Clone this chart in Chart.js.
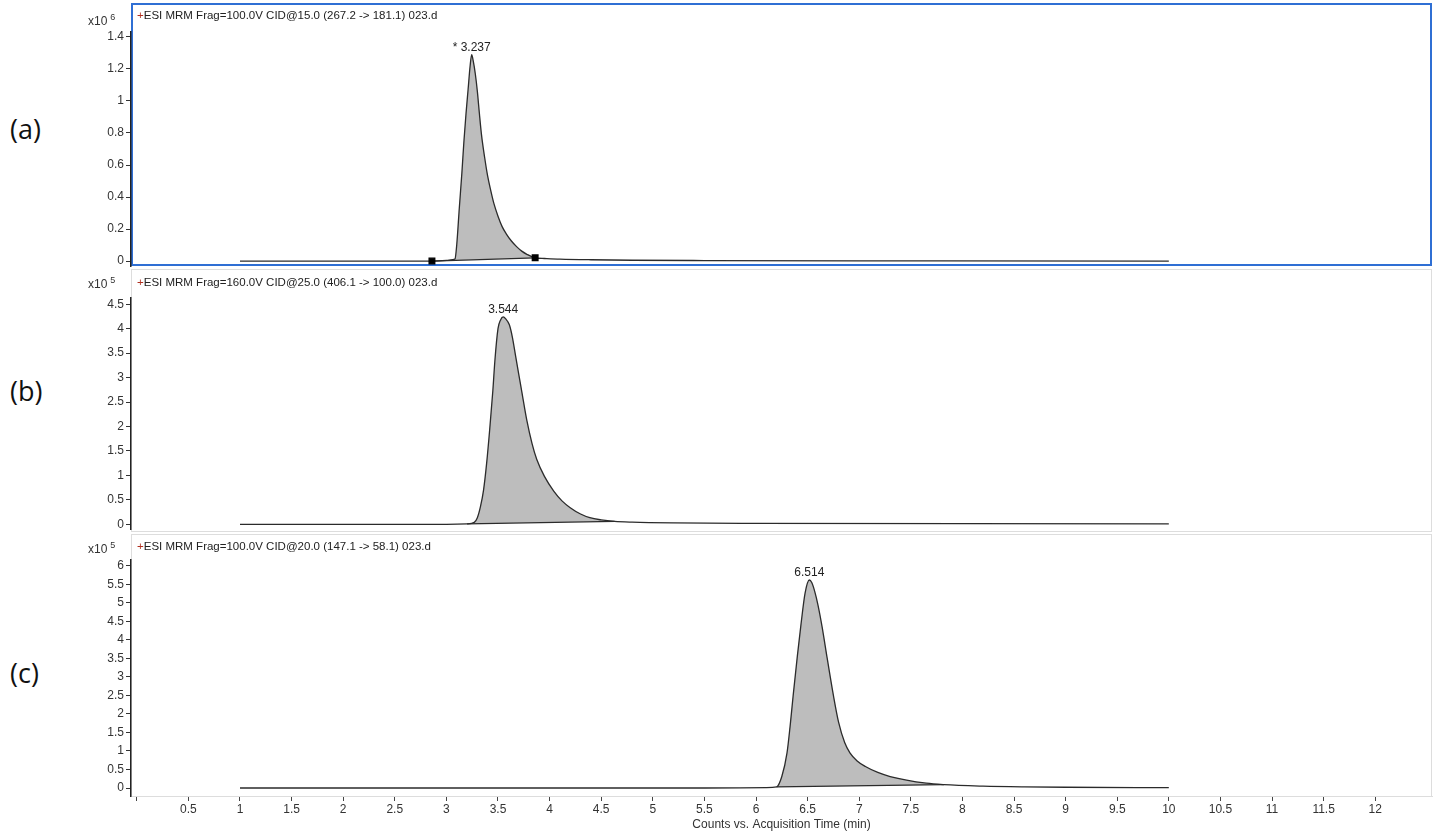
<!DOCTYPE html>
<html>
<head>
<meta charset="utf-8">
<script src="https://cdn.jsdelivr.net/npm/chart.js@4.4.1/dist/chart.umd.min.js"></script>
<style>
  body { margin: 0; background: #fff; width: 1439px; height: 831px; overflow: hidden; position: relative; font-family: Arial, "Liberation Sans", sans-serif; }
  .box { position: absolute; left: 131px; width: 1301px; box-sizing: border-box; }
  #boxA { top: 3px; height: 263px; border: 2px solid #2f6fd4; }
  #boxB { top: 269px; height: 263px; border: 1px solid #dddddd; }
  #boxC { top: 534px; height: 263px; border: 1px solid #dddddd; }
  .cv { position: absolute; left: 50px; z-index: 2; }
  .title { position: absolute; left: 137px; font-size: 11.5px; color: #222; white-space: nowrap; z-index: 3; }
  .title b { color: #b03020; font-weight: normal; }
  .mult { position: absolute; left: 88px; font-size: 12px; color: #333; z-index: 3; }
  .mult sup { font-size: 9px; margin-left: 3px; }
  .panel { position: absolute; left: 10px; font-family: "Open Sans", sans-serif; font-size: 27px; color: #111; }
</style>
</head>
<body>
<div class="box" id="boxA"></div>
<div class="box" id="boxB"></div>
<div class="box" id="boxC"></div>

<div class="panel" style="top:110px">(a)</div>
<div class="panel" style="top:372px">(b)</div>
<div class="panel" style="top:654px">(c)</div>

<div class="mult" style="top:12px">x10<sup>6</sup></div>
<div class="mult" style="top:275px">x10<sup>5</sup></div>
<div class="mult" style="top:540px">x10<sup>5</sup></div>

<div class="title" style="top:9px"><b>+</b>ESI MRM Frag=100.0V CID@15.0 (267.2 -&gt; 181.1) 023.d</div>
<div class="title" style="top:276px"><b>+</b>ESI MRM Frag=160.0V CID@25.0 (406.1 -&gt; 100.0) 023.d</div>
<div class="title" style="top:540px"><b>+</b>ESI MRM Frag=100.0V CID@20.0 (147.1 -&gt; 58.1) 023.d</div>

<canvas id="chartA" class="cv" style="top:0px" width="1389" height="276"></canvas>
<canvas id="chartB" class="cv" style="top:268px" width="1389" height="271"></canvas>
<canvas id="chartC" class="cv" style="top:532px" width="1389" height="308"></canvas>

<script>
// acquisition time (min) and counts for each trace
const timeA = [1, 2, 2.86, 3.0, 3.06, 3.083, 3.10, 3.125, 3.15, 3.17, 3.19, 3.21, 3.23, 3.245, 3.26, 3.28, 3.30, 3.32, 3.34, 3.37, 3.40, 3.43, 3.46, 3.50, 3.54, 3.58, 3.63, 3.68, 3.73, 3.78, 3.86, 3.95, 4.1, 4.4, 4.8, 5.5, 7, 10];
const signalA = [0, 0, 0, 0.004, 0.008, 0.012, 0.10, 0.33, 0.55, 0.75, 0.92, 1.07, 1.22, 1.29, 1.25, 1.17, 1.06, 0.92, 0.79, 0.65, 0.53, 0.44, 0.36, 0.28, 0.215, 0.17, 0.125, 0.09, 0.062, 0.042, 0.02, 0.016, 0.012, 0.008, 0.005, 0.003, 0.001, 0];
const baseTimeA = [2.86, 3.86];
const baseA = [0, 0.02];

const timeB = [1, 3.0, 3.2, 3.27, 3.30, 3.33, 3.36, 3.39, 3.42, 3.45, 3.47, 3.50, 3.525, 3.55, 3.575, 3.61, 3.64, 3.67, 3.70, 3.73, 3.78, 3.83, 3.875, 3.95, 4.04, 4.12, 4.2, 4.3, 4.39, 4.5, 4.63, 4.8, 5.2, 6, 8, 10];
const signalB = [0, 0, 0.01, 0.04, 0.135, 0.36, 0.70, 1.25, 1.95, 2.73, 3.35, 4.0, 4.18, 4.24, 4.2, 4.08, 3.82, 3.45, 3.08, 2.72, 2.12, 1.65, 1.33, 0.98, 0.68, 0.48, 0.34, 0.21, 0.135, 0.09, 0.06, 0.045, 0.03, 0.02, 0.012, 0.01];
const baseTimeB = [3.2, 4.63];
const baseB = [0.01, 0.06];

const timeC = [1, 5.5, 6.1, 6.2, 6.25, 6.30, 6.33, 6.36, 6.40, 6.435, 6.475, 6.517, 6.54, 6.57, 6.60, 6.64, 6.69, 6.75, 6.80, 6.86, 6.91, 6.98, 7.06, 7.18, 7.3, 7.65, 7.82, 8.2, 8.6, 9, 10];
const signalC = [0, 0, 0.01, 0.03, 0.31, 0.94, 1.66, 2.50, 3.55, 4.40, 5.26, 5.62, 5.55, 5.3, 4.95, 4.36, 3.50, 2.50, 1.78, 1.22, 0.95, 0.73, 0.58, 0.42, 0.31, 0.13, 0.09, 0.05, 0.03, 0.02, 0.01];
const baseTimeC = [6.2, 7.82];
const baseC = [0.03, 0.09];

const peakLabels = ['* 3.237', '3.544', '6.514'];

// tick labels
const xTicks = [0, 0.5, 1, 1.5, 2, 2.5, 3, 3.5, 4, 4.5, 5, 5.5, 6, 6.5, 7, 7.5, 8, 8.5, 9, 9.5, 10, 10.5, 11, 11.5, 12];
const yTicksA = [0, 0.2, 0.4, 0.6, 0.8, 1, 1.2, 1.4];
const yTicksB = [0, 0.5, 1, 1.5, 2, 2.5, 3, 3.5, 4, 4.5];
const yTicksC = [0, 0.5, 1, 1.5, 2, 2.5, 3, 3.5, 4, 4.5, 5, 5.5, 6];

const lineColor = '#2b2b2b';
const fillColor = '#bdbdbd';
const axisFont = { size: 12, family: 'Arial, "Liberation Sans", sans-serif' };

const toPoints = (xs, ys) => xs.map((x, i) => ({ x: x, y: ys[i] }));

// draws the retention time above the apex of the trace
const peakLabelPlugin = {
  id: 'peakLabel',
  afterDatasetsDraw(chart, args, opts) {
    const pts = chart.data.datasets[0].data;
    let top = pts[0];
    pts.forEach(p => { if (p.y > top.y) top = p; });
    const px = chart.scales.x.getPixelForValue(top.x);
    const py = chart.scales.y.getPixelForValue(top.y);
    const ctx = chart.ctx;
    ctx.save();
    ctx.font = '12px Arial, "Liberation Sans", sans-serif';
    ctx.fillStyle = '#222';
    ctx.textAlign = 'center';
    ctx.textBaseline = 'bottom';
    ctx.fillText(opts.text, px, py - 1);
    ctx.restore();
  }
};

function makeChart(id, cfg) {
  const curve = toPoints(cfg.time, cfg.signal);
  const area = curve.filter(p => p.x >= cfg.baseTime[0] && p.x <= cfg.baseTime[1]);
  return new Chart(document.getElementById(id), {
    type: 'line',
    data: {
      datasets: [
        {
          data: curve,
          borderColor: lineColor,
          borderWidth: 1.3,
          pointRadius: 0,
          cubicInterpolationMode: 'monotone',
          fill: false,
          order: 0
        },
        {
          data: area,
          borderWidth: 0,
          borderColor: 'rgba(0,0,0,0)',
          pointRadius: 0,
          cubicInterpolationMode: 'monotone',
          backgroundColor: fillColor,
          fill: 2,
          order: 1
        },
        {
          data: toPoints(cfg.baseTime, cfg.base),
          borderColor: lineColor,
          borderWidth: 1.3,
          pointStyle: 'rect',
          pointRadius: cfg.markers ? 4 : 0,
          pointBackgroundColor: '#000',
          pointBorderColor: '#000',
          fill: false,
          order: -1
        }
      ]
    },
    options: {
      responsive: false,
      animation: false,
      events: [],
      layout: { padding: { top: cfg.padTop, bottom: 0, left: 0, right: 7 } },
      plugins: {
        legend: { display: false },
        tooltip: { enabled: false },
        peakLabel: { text: cfg.label }
      },
      scales: {
        x: {
          type: 'linear',
          min: -0.056,
          max: 12.55,
          afterBuildTicks: s => { s.ticks = xTicks.map(v => ({ value: v })); },
          afterFit: s => { s.height = cfg.xHeight; },
          ticks: {
            display: cfg.showX,
            color: '#333',
            font: axisFont,
            padding: 1,
            maxRotation: 0,
            autoSkip: false,
            callback: v => (v === 0 ? '' : String(v))
          },
          grid: { display: cfg.showX, drawOnChartArea: false, drawTicks: true, tickLength: 5, color: '#444' },
          border: { display: cfg.showX, color: '#dddddd', width: 1 },
          title: {
            display: cfg.showX,
            text: 'Counts vs. Acquisition Time (min)',
            color: '#333',
            font: axisFont,
            padding: { top: 0, bottom: 8 }
          }
        },
        y: {
          min: cfg.yMin,
          max: cfg.yMax,
          afterBuildTicks: s => { s.ticks = cfg.yTicks.map(v => ({ value: v })); },
          afterFit: s => { s.width = 81; },
          ticks: {
            color: '#333',
            font: axisFont,
            padding: 2,
            callback: v => String(v)
          },
          grid: { drawOnChartArea: false, drawTicks: true, tickLength: 5, color: '#333' },
          border: { color: '#222', width: 1.5 }
        }
      }
    },
    plugins: [peakLabelPlugin]
  });
}

makeChart('chartA', {
  time: timeA, signal: signalA, baseTime: baseTimeA, base: baseA,
  label: peakLabels[0], yTicks: yTicksA, yMin: -0.031, yMax: 1.431,
  padTop: 32, xHeight: 10, showX: false, markers: true
});

makeChart('chartB', {
  time: timeB, signal: signalB, baseTime: baseTimeB, base: baseB,
  label: peakLabels[1], yTicks: yTicksB, yMin: -0.096, yMax: 4.628,
  padTop: 30, xHeight: 10, showX: false, markers: false
});

makeChart('chartC', {
  time: timeC, signal: signalC, baseTime: baseTimeC, base: baseC,
  label: peakLabels[2], yTicks: yTicksC, yMin: -0.216, yMax: 6.16,
  padTop: 28, xHeight: 44, showX: true, markers: false
});
</script>
</body>
</html>
